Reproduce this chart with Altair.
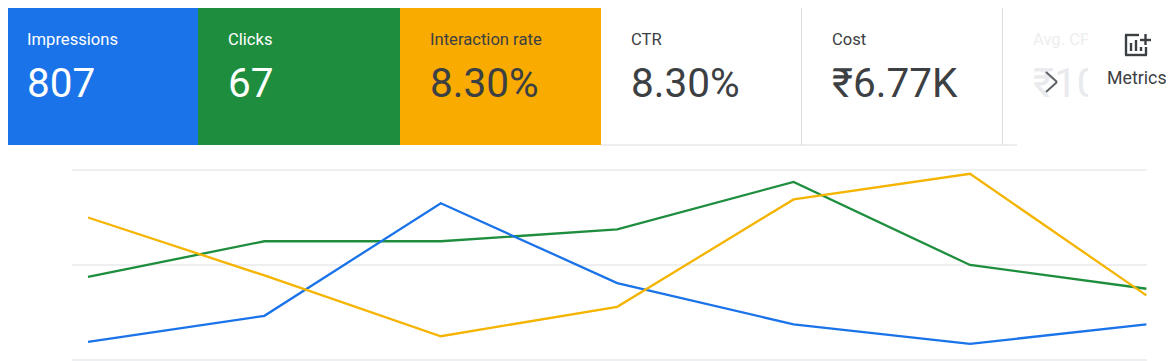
import altair as alt
import pandas as pd

# ---- data ----
days = [0, 1, 2, 3, 4, 5, 6]
impressions = [38, 93, 330, 162, 75, 34, 75]
clicks = [7, 10, 10, 11, 15, 8, 6]
interaction_rate = [15.0, 8.9, 2.5, 5.6, 16.9, 19.6, 6.8]
grid_clicks = [0, 8, 16]

tile_labels = ["Impressions", "Clicks", "Interaction rate", "CTR", "Cost"]
tile_values = ["807", "67", "8.30%", "8.30%", "₹6.77K"]

# ---- layout (page pixels; the page margin is removed by OFF) ----
OFF = 8
W, H = 1158, 353
BLUE, GREEN, YELLOW = "#1a73e8", "#1e8e3e", "#f9ab00"
LINE_YELLOW = "#f4b400"
DARK = "#3c4043"
FONT = "Roboto"
tile_left = [0, 198, 400]
tile_right = [198, 400, 601]
tile_fill = [BLUE, GREEN, YELLOW]
text_x = [27, 228, 430, 631, 832]
text_col = ["#ffffff", "#ffffff", DARK, DARK, DARK]


def px(v):
    return alt.value(v - OFF)


def rule(x1, y1, x2, y2, color, width):
    return alt.Chart(pd.DataFrame({"k": [0]})).mark_rule(
        color=color, strokeWidth=width
    ).encode(x=px(x1), x2=px(x2), y=px(y1), y2=px(y2))


def text(s, x, y, size, color, weight=400):
    return alt.Chart(pd.DataFrame({"t": [s]})).mark_text(
        align="left", baseline="alphabetic", font=FONT, fontSize=size,
        color=color, fontWeight=weight
    ).encode(x=px(x), y=px(y), text="t:N")


def scale_for(px_per_unit):
    # baseline value 0 at page y=360, same px-per-unit in every series' own axis
    base = 360 - OFF
    return alt.Scale(domain=[(base - H) / px_per_unit, base / px_per_unit],
                     range=[H, 0], nice=False, zero=False, clamp=False)


x_scale = alt.Scale(domain=[(0 - (88 - OFF)) / 176.4, (W - (88 - OFF)) / 176.4],
                    range=[0, W], nice=False, zero=False)
df = pd.DataFrame({"day": days, "imp": impressions, "clk": clicks, "rate": interaction_rate})


def series(field, color, ppu):
    return alt.Chart(df).mark_line(color=color, strokeWidth=2.3, interpolate="linear").encode(
        x=alt.X("day:Q", scale=x_scale, axis=None),
        y=alt.Y(f"{field}:Q", scale=scale_for(ppu), axis=None),
    )


grid = alt.Chart(pd.DataFrame({"g": grid_clicks})).mark_rule(
    color="#e8eaed", strokeWidth=1.6
).encode(
    x=px(72), x2=px(1147),
    y=alt.Y("g:Q", scale=scale_for(190 / 16), axis=None),
)

lines = alt.layer(
    grid,
    series("clk", GREEN, 190 / 16),
    series("imp", BLUE, 190 / 400),
    series("rate", LINE_YELLOW, 190 / 20),
).resolve_scale(y="independent")

layers = [lines]

# tiles
for l, r, c in zip(tile_left, tile_right, tile_fill):
    layers.append(
        alt.Chart(pd.DataFrame({"k": [0]})).mark_rect(color=c).encode(
            x=px(l), x2=px(r), y=px(0), y2=px(145)
        )
    )
layers += [
    rule(801.5, 0, 801.5, 145, "#dadce0", 1),
    rule(1002.5, 0, 1002.5, 145, "#dadce0", 1),
    rule(601, 145, 1017, 145, "#dadce0", 1),
]
for i, (lab, val) in enumerate(zip(tile_labels, tile_values)):
    layers.append(text(lab, text_x[i], 45, 16.6, text_col[i], 400))
    layers.append(text(val, text_x[i], 97, 40.5, text_col[i], 400))

# faded, clipped tile
layers.append(text("Avg. CPC", 1033, 45, 16.6, "#eceef0"))
layers.append(text("₹10", 1033, 97, 40.5, "#e8eaed"))
layers.append(
    alt.Chart(pd.DataFrame({"k": [0]})).mark_rect(color="#ffffff").encode(
        x=px(1088), x2=px(1174), y=px(10), y2=px(120)
    )
)
# chevron
layers += [
    rule(1046, 72, 1057, 82, "#5f6368", 2),
    rule(1057, 82, 1046, 92, "#5f6368", 2),
]
# metrics icon
layers += [
    rule(1126, 35, 1126, 55, DARK, 2.4),
    rule(1125, 55, 1147, 55, DARK, 2.4),
    rule(1146, 47, 1146, 55, DARK, 2.4),
    rule(1125, 35, 1139, 35, DARK, 2.4),
    rule(1131, 43, 1131, 51, DARK, 2.4),
    rule(1136, 40, 1136, 51, DARK, 2.4),
    rule(1141, 47, 1141, 51, DARK, 2.4),
    rule(1140, 40, 1151, 40, DARK, 2.4),
    rule(1145.5, 34, 1145.5, 45, DARK, 2.4),
]
layers.append(text("Metrics", 1107, 84, 17.8, DARK))

chart = alt.layer(*layers).resolve_scale(x="independent", y="independent").properties(
    width=W, height=H, padding=0,
    autosize=alt.AutoSizeParams(type="none"),
).configure_view(stroke=None)

chart.save("out.html", embed_options={"renderer": "svg", "actions": False})
